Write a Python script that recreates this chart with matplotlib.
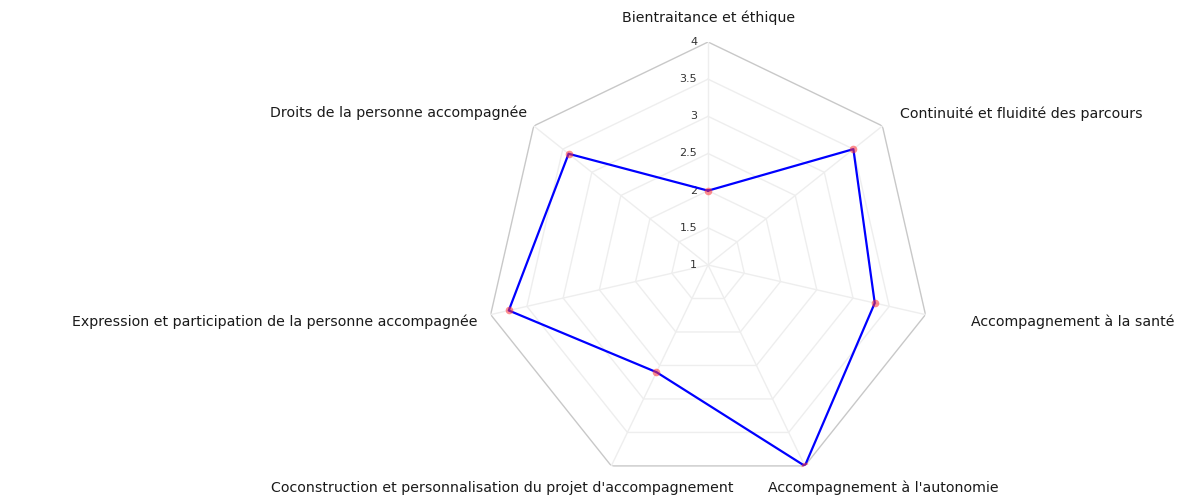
import numpy as np
import matplotlib.pyplot as plt

# radar chart of evaluation scores (scale 1 to 4)
categories = ["Bientraitance et éthique",
              "Continuité et fluidité des parcours",
              "Accompagnement à la santé",
              "Accompagnement à l'autonomie",
              "Coconstruction et personnalisation du projet d'accompagnement",
              "Expression et participation de la personne accompagnée",
              "Droits de la personne accompagnée"]
scores = [2, 3.5, 3.3, 4, 2.6, 3.75, 3.4]
levels = [1, 1.5, 2, 2.5, 3, 3.5, 4]
level_labels = ["1", "1.5", "2", "2.5", "3", "3.5", "4"]

n = len(categories)
theta = np.linspace(0, 2*np.pi, n, endpoint=False)
theta_c = np.append(theta, theta[0])

fig = plt.figure(figsize=(11.81, 4.97), dpi=100)
ax = fig.add_axes([0.4107, 0.0181, 0.3777, 0.8974], projection="polar")
ax.set_theta_zero_location("N")
ax.set_theta_direction(-1)
ax.set_ylim(1, 4)
ax.grid(False)
ax.spines["polar"].set_visible(False)
ax.set_xticks([])
ax.set_yticks([])
ax.patch.set_alpha(0)

# polygon grid
for lv in levels[1:]:
    col = "#c8c8c8" if lv == levels[-1] else "#eeeeee"
    ax.plot(theta_c, [lv]*(n+1), color=col, lw=1, zorder=1)
for t in theta:
    ax.plot([t, t], [levels[0], levels[-1]], color="#eeeeee", lw=1, zorder=1)

# radial tick labels
for lv, lab in zip(levels, level_labels):
    ax.annotate(lab, xy=(0, lv), xytext=(-11, 0), textcoords="offset pixels",
                ha="right", va="center", fontsize=8, color="#333333")

# category labels (offsets in pixels from the outer vertex)
offsets = [(0, 24, "center"), (18, 12, "left"), (46, -7, "left"), (-37, -22, "left"),
           (122, -22, "right"), (-13, -7, "right"), (-7, 13, "right")]
for t, lab, (dx, dy, ha) in zip(theta, categories, offsets):
    ax.annotate(lab, xy=(t, levels[-1]), xytext=(dx, dy), textcoords="offset pixels",
                ha=ha, va="center", fontsize=10.2, color="#1a1a1a", annotation_clip=False)

vals = np.append(scores, scores[0])
ax.plot(theta_c, vals, color="#0000ff", lw=1.6, zorder=3)
ax.plot(theta, scores, "o", color="#ff3333", alpha=0.55, markersize=5.5,
        markeredgewidth=0, zorder=4)

plt.savefig("out.png", dpi=100)
